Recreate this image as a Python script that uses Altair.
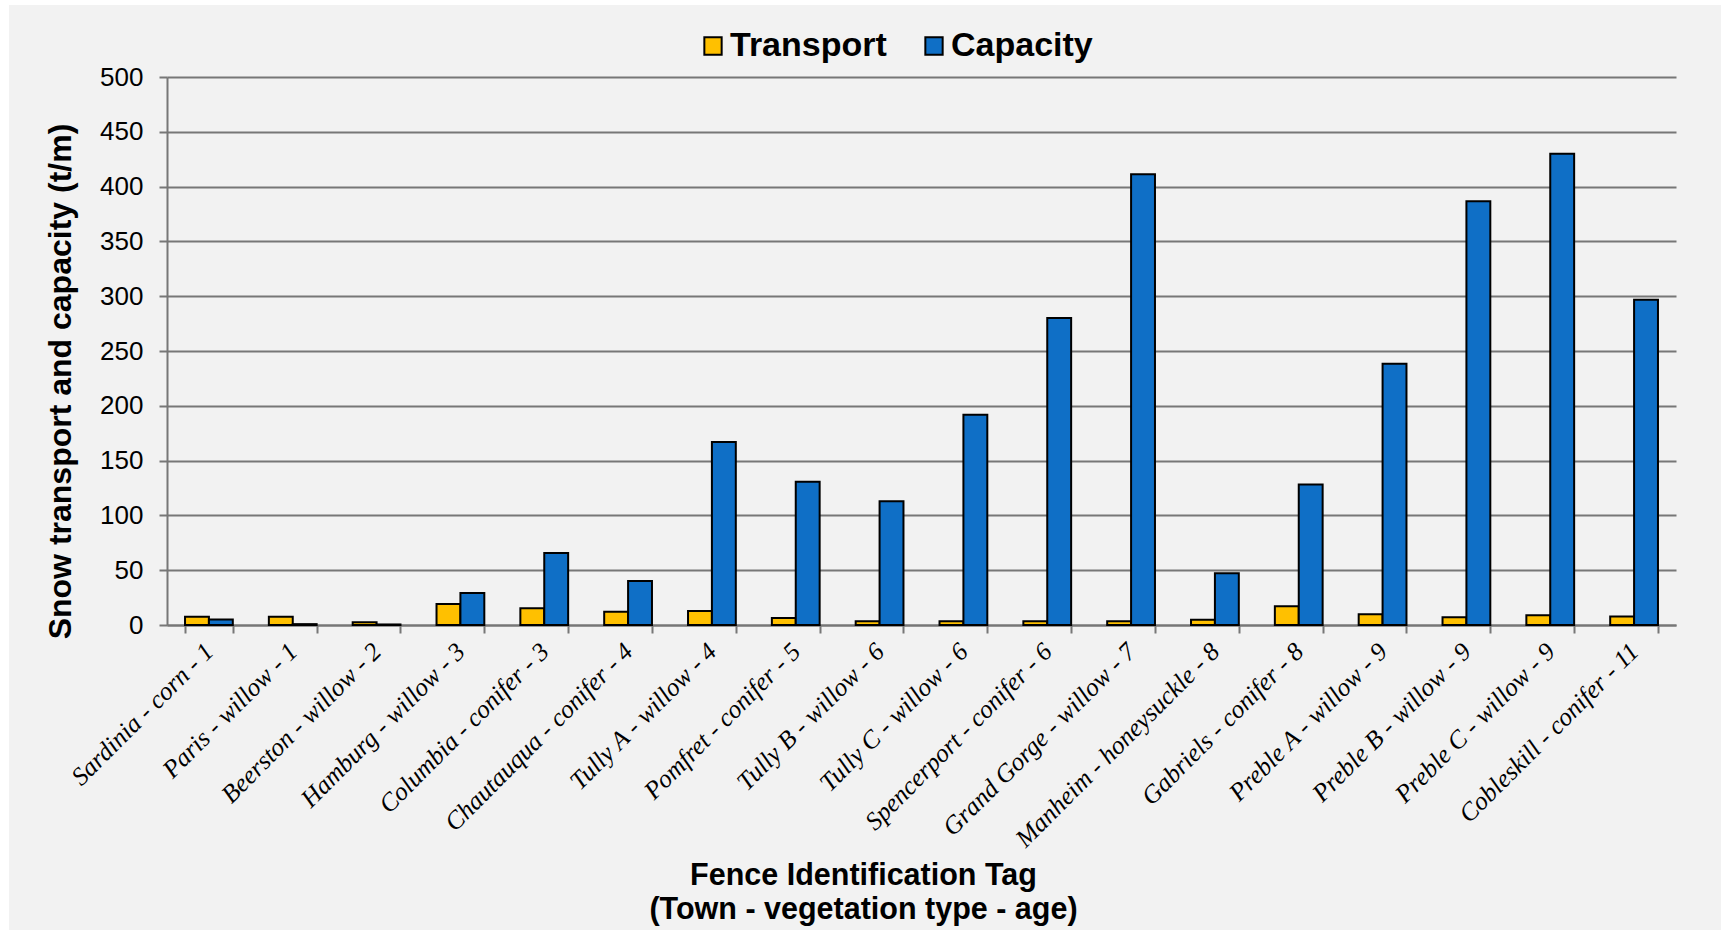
import altair as alt
import pandas as pd

# Fence tags (Town - vegetation type - age) and measured snow quantities (t/m)
tags = [
    "Sardinia - corn - 1", "Paris - willow - 1", "Beerston - willow - 2",
    "Hamburg - willow - 3", "Columbia - conifer - 3", "Chautauqua - conifer - 4",
    "Tully A - willow - 4", "Pomfret - conifer - 5", "Tully B - willow - 6",
    "Tully C - willow - 6", "Spencerport - conifer - 6", "Grand Gorge - willow - 7",
    "Manheim - honeysuckle - 8", "Gabriels - conifer - 8", "Preble A - willow - 9",
    "Preble B - willow - 9", "Preble C - willow - 9", "Cobleskill - conifer - 11",
]
transport = [7.5, 7.5, 2.4, 19.2, 15.2, 12.1, 12.8, 6.4, 3.4, 3.4, 3.4, 3.4,
             4.7, 17.2, 9.8, 7.1, 8.8, 7.8]
capacity = [5.0, 0.8, 0.5, 29.3, 65.7, 40.1, 166.9, 130.8, 112.9, 191.8, 280.2,
            411.3, 47.2, 128.1, 238.4, 386.7, 429.9, 296.7]
series = ["Transport", "Capacity"]
colors = ["#FFC000", "#0F6FC6"]
y_ticks = list(range(0, 501, 50))

rows = []
for tag, t, c in zip(tags, transport, capacity):
    rows.append({"Tag": tag, "Series": "Transport", "Value": t})
    rows.append({"Tag": tag, "Series": "Capacity", "Value": c})
df = pd.DataFrame(rows)

W, H = 1509, 548
PAD = {"left": 167, "top": 77, "right": 45, "bottom": 305}

SANS = "Liberation Sans, Arial, sans-serif"
SERIF = "Liberation Serif, Times New Roman, serif"
GRID = "#777777"

# thin white margins at the left and top of the grey chart panel
edge_left = alt.Chart(alt.Data(values=[{}])).mark_rect(color="white").encode(
    x=alt.value(-PAD["left"]), x2=alt.value(-158),
    y=alt.value(-PAD["top"]), y2=alt.value(H + PAD["bottom"]),
)
edge_top = alt.Chart(alt.Data(values=[{}])).mark_rect(color="white").encode(
    x=alt.value(-PAD["left"]), x2=alt.value(W + PAD["right"]),
    y=alt.value(-PAD["top"]), y2=alt.value(-72),
)

bars = alt.Chart(df).mark_bar(stroke="black", strokeWidth=2).encode(
    x=alt.X(
        "Tag:N", sort=tags,
        scale=alt.Scale(paddingInner=0.43, paddingOuter=0.215),
        axis=alt.Axis(
            title=["Fence Identification Tag", "(Town - vegetation type - age)"],
            titleFont=SANS, titleFontSize=30.5, titleFontWeight="bold", titleColor="black",
            titleX=696, titleY=235, titleAlign="center", titleBaseline="top",
            titleLineHeight=34, titleAnchor="start",
            labelAngle=315, labelAlign="right", labelBaseline="middle",
            labelFont=SERIF, labelFontStyle="italic", labelFontSize=25.5,
            labelColor="black", labelPadding=14, labelLimit=600,
            tickBand="extent", ticks=True, tickSize=8, tickColor=GRID, tickWidth=2,
            domainColor=GRID, domainWidth=2, grid=False,
        ),
    ),
    xOffset=alt.XOffset("Series:N", sort=series),
    y=alt.Y(
        "Value:Q",
        scale=alt.Scale(domain=[0, 500], nice=False, zero=True),
        axis=alt.Axis(
            values=y_ticks, title="Snow transport and capacity (t/m)",
            titleFont=SANS, titleFontSize=32, titleFontWeight="bold", titleColor="black",
            titleAngle=270, titleX=-107, titleY=304,
            titleAlign="center", titleBaseline="middle",
            labelFont=SANS, labelFontSize=26, labelColor="black", labelPadding=16,
            tickSize=8, tickColor=GRID, tickWidth=2,
            domainColor=GRID, domainWidth=2,
            grid=True, gridColor=GRID, gridWidth=2,
        ),
    ),
    color=alt.Color(
        "Series:N", sort=series,
        scale=alt.Scale(domain=series, range=colors),
        legend=alt.Legend(
            title=None, orient="none", legendX=529, legendY=-48,
            direction="horizontal", symbolType="square", symbolSize=300,
            symbolStrokeColor="black", symbolStrokeWidth=2,
            labelFont=SANS, labelFontSize=34, labelFontWeight="bold",
            labelColor="black", labelOffset=0, columnPadding=30, labelLimit=400,
        ),
    ),
)

chart = alt.layer(edge_left, edge_top, bars).properties(
    width=W, height=H,
    autosize=alt.AutoSizeParams(type="none"),
    padding=PAD,
    background="#f2f2f2",
).configure_view(stroke=None)

chart.save("out.html", embed_options={"renderer": "svg", "actions": False})
